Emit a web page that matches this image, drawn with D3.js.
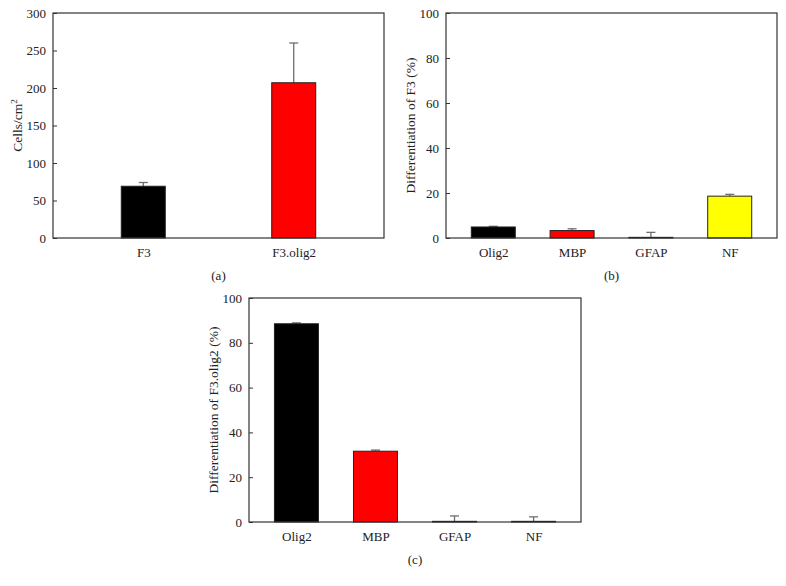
<!DOCTYPE html>
<html>
<head>
<meta charset="utf-8">
<script src="https://cdn.jsdelivr.net/npm/d3@7"></script>
<style>
  body { margin: 0; background: #fff; }
  svg { display: block; }
  text { font-family: "Liberation Serif", "DejaVu Serif", serif; fill: #222; }
</style>
</head>
<body>
<div id="chart"></div>
<script>
// panel (a)
var catsA = ["F3", "F3.olig2"];
var valsA = [69, 207];
var errsA = [5, 53];
var ticksA = [0, 50, 100, 150, 200, 250, 300];

// panel (b)
var catsB = ["Olig2", "MBP", "GFAP", "NF"];
var valsB = [4.9, 3.3, 0.3, 18.6];
var errsB = [0.3, 0.8, 2.2, 0.8];
var ticksB = [0, 20, 40, 60, 80, 100];

// panel (c)
var catsC = ["Olig2", "MBP", "GFAP", "NF"];
var valsC = [88.5, 31.6, 0.3, 0.3];
var errsC = [0.4, 0.5, 2.4, 2.0];
var ticksC = [0, 20, 40, 60, 80, 100];

var colors = {
  "F3": "#000000", "F3.olig2": "#ff0000",
  "Olig2": "#000000", "MBP": "#ff0000", "GFAP": "#000000", "NF": "#ffff00"
};

var FONT = "'Liberation Serif', 'DejaVu Serif', serif";

var svg = d3.select("#chart").append("svg")
  .attr("width", 786).attr("height", 586);

function drawPanel(opt) {
  var x = d3.scalePoint().domain(opt.cats).range([opt.left, opt.right]).padding(0.6);
  var y = d3.scaleLinear().domain([0, d3.max(opt.ticks)]).range([opt.bottom, opt.top]);
  var barW = 44;
  var g = svg.append("g");

  var rows = opt.cats.map((c, i) => ({cat: c, v: opt.vals[i], e: opt.errs[i]}));

  // error bars (drawn behind the bar so only the upper half shows)
  var eb = g.selectAll(".err").data(rows).enter().append("g");
  eb.append("line")
    .attr("x1", (d) => x(d.cat)).attr("x2", (d) => x(d.cat))
    .attr("y1", (d) => y(d.v)).attr("y2", (d) => y(d.v + d.e))
    .attr("stroke", "#6e6e6e").attr("stroke-width", 1.3);
  eb.append("line")
    .attr("x1", (d) => x(d.cat) - 4.5).attr("x2", (d) => x(d.cat) + 4.5)
    .attr("y1", (d) => y(d.v + d.e)).attr("y2", (d) => y(d.v + d.e))
    .attr("stroke", "#6e6e6e").attr("stroke-width", 1.3);

  g.selectAll(".bar").data(rows).enter().append("rect")
    .attr("x", (d) => x(d.cat) - barW / 2)
    .attr("y", (d) => y(d.v))
    .attr("width", barW)
    .attr("height", (d) => y(0) - y(d.v))
    .attr("fill", (d) => colors[d.cat])
    .attr("stroke", "#222").attr("stroke-width", 1);

  // frame
  g.append("rect")
    .attr("x", opt.left).attr("y", opt.top)
    .attr("width", opt.right - opt.left).attr("height", opt.bottom - opt.top)
    .attr("fill", "none").attr("stroke", "#333").attr("stroke-width", 1.2);

  // y axis with inward ticks
  var ay = g.append("g").attr("transform", "translate(" + opt.left + ",0)")
    .call(d3.axisLeft(y).tickValues(opt.ticks).tickSizeInner(-4).tickSizeOuter(0).tickPadding(7));
  ay.attr("font-family", FONT).attr("font-size", 13);
  ay.select(".domain").remove();
  ay.selectAll(".tick line").attr("stroke", "#333");
  ay.selectAll(".tick text").attr("fill", "#222");

  // x axis labels only
  var ax = g.append("g").attr("transform", "translate(0," + opt.bottom + ")")
    .call(d3.axisBottom(x).tickSize(0).tickPadding(10));
  ax.attr("font-family", FONT).attr("font-size", 13);
  ax.select(".domain").remove();
  ax.selectAll(".tick text").attr("fill", "#222");

  // y title
  var yt = g.append("text")
    .attr("transform", "translate(" + (opt.left - 36) + "," + ((opt.top + opt.bottom) / 2) + ") rotate(-90)")
    .attr("text-anchor", "middle").attr("font-size", 13.5)
    .attr("dy", "0.35em");
  yt.append("tspan").text(opt.title);
  if (opt.sup) {
    yt.append("tspan").attr("baseline-shift", "super").attr("font-size", 9).text(opt.sup);
  }

  g.append("text")
    .attr("x", (opt.left + opt.right) / 2).attr("y", opt.bottom + 42)
    .attr("text-anchor", "middle").attr("font-size", 13)
    .text(opt.tag);
}

drawPanel({cats: catsA, vals: valsA, errs: errsA, ticks: ticksA,
  left: 53, right: 384, top: 13, bottom: 238, title: "Cells/cm", sup: "2", tag: "(a)"});
drawPanel({cats: catsB, vals: valsB, errs: errsB, ticks: ticksB,
  left: 446, right: 777, top: 13, bottom: 238, title: "Differentiation of F3 (%)", tag: "(b)"});
drawPanel({cats: catsC, vals: valsC, errs: errsC, ticks: ticksC,
  left: 249, right: 581, top: 298, bottom: 522, title: "Differentiation of F3.olig2 (%)", tag: "(c)"});
</script>
</body>
</html>
